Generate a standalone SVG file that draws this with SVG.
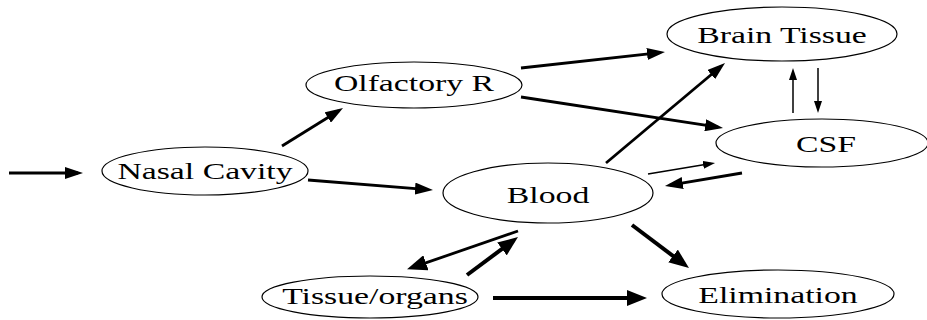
<svg xmlns="http://www.w3.org/2000/svg" width="927" height="320" viewBox="0 0 927 320">
<style>
.node ellipse{fill:#fff;stroke:#000;stroke-width:1.2}
.node text{font-family:"Liberation Serif","Times New Roman",serif;font-size:22.5px;fill:#000;text-anchor:middle}
.c line{stroke:#000;fill:none}
.m{stroke-width:2.8}
.t{stroke-width:4}
.s{stroke-width:1.5}
</style>
<defs>
<marker id="ah" markerUnits="userSpaceOnUse" markerWidth="18" markerHeight="12" refX="13" refY="6" orient="auto"><path d="M0,0 L18,6 L0,12 z" fill="#000"/></marker>
<marker id="ahT" markerUnits="userSpaceOnUse" markerWidth="20" markerHeight="16" refX="14" refY="8" orient="auto"><path d="M0,0 L20,8 L0,16 z" fill="#000"/></marker>
<marker id="ahS" markerUnits="userSpaceOnUse" markerWidth="12" markerHeight="8" refX="8" refY="4" orient="auto"><path d="M0,0 L12,4 L0,8 z" fill="#000"/></marker>
</defs>
<rect width="927" height="320" fill="#fff"/>
<g id="nasal" class="node"><ellipse cx="205" cy="171" rx="103" ry="24"/><text transform="translate(205,179) scale(1.5,1)">Nasal Cavity</text></g>
<g id="olfactory" class="node"><ellipse cx="414" cy="85" rx="108" ry="23"/><text transform="translate(414,91) scale(1.5,1)">Olfactory R</text></g>
<g id="brain" class="node"><ellipse cx="782" cy="34" rx="115" ry="27"/><text transform="translate(782,43) scale(1.5,1)">Brain Tissue</text></g>
<g id="csf" class="node"><ellipse cx="822" cy="143" rx="106" ry="24"/><text transform="translate(826,152) scale(1.5,1)">CSF</text></g>
<g id="blood" class="node"><ellipse cx="548" cy="193" rx="105" ry="30"/><text transform="translate(548,203) scale(1.5,1)">Blood</text></g>
<g id="tissue" class="node"><ellipse cx="370" cy="297" rx="108" ry="21"/><text transform="translate(375,304) scale(1.5,1)">Tissue/organs</text></g>
<g id="elimination" class="node"><ellipse cx="778" cy="294" rx="116" ry="24"/><text transform="translate(778,303) scale(1.5,1)">Elimination</text></g>
<g id="connectors" class="c">
<line class="m" x1="9" y1="173" x2="78" y2="173" marker-end="url(#ah)"/>
<line class="m" x1="282" y1="146" x2="338.8" y2="110.7" marker-end="url(#ah)"/>
<line class="m" x1="308" y1="180" x2="428" y2="189.6" marker-end="url(#ah)"/>
<line class="m" x1="521" y1="68" x2="660" y2="52.6" marker-end="url(#ah)"/>
<line class="m" x1="521" y1="97" x2="718.1" y2="127.2" marker-end="url(#ah)"/>
<line class="m" x1="606" y1="163" x2="721.2" y2="66.2" marker-end="url(#ah)"/>
<line class="s" x1="793" y1="113" x2="793" y2="72" marker-end="url(#ahS)"/>
<line class="s" x1="818" y1="68" x2="818" y2="109" marker-end="url(#ahS)"/>
<line class="s" x1="648" y1="174" x2="711.1" y2="163.6" marker-end="url(#ahS)"/>
<line class="m" x1="742" y1="173" x2="669.9" y2="185.2" marker-end="url(#ah)"/>
<line class="m" x1="518" y1="231" x2="412.7" y2="267.4" marker-end="url(#ahT)"/>
<line class="t" x1="467" y1="275" x2="513.2" y2="240.6" marker-end="url(#ahT)"/>
<line class="t" x1="632" y1="225" x2="684.2" y2="264.4" marker-end="url(#ahT)"/>
<line class="t" x1="493" y1="298" x2="641" y2="298" marker-end="url(#ahT)"/>
</g>
</svg>
